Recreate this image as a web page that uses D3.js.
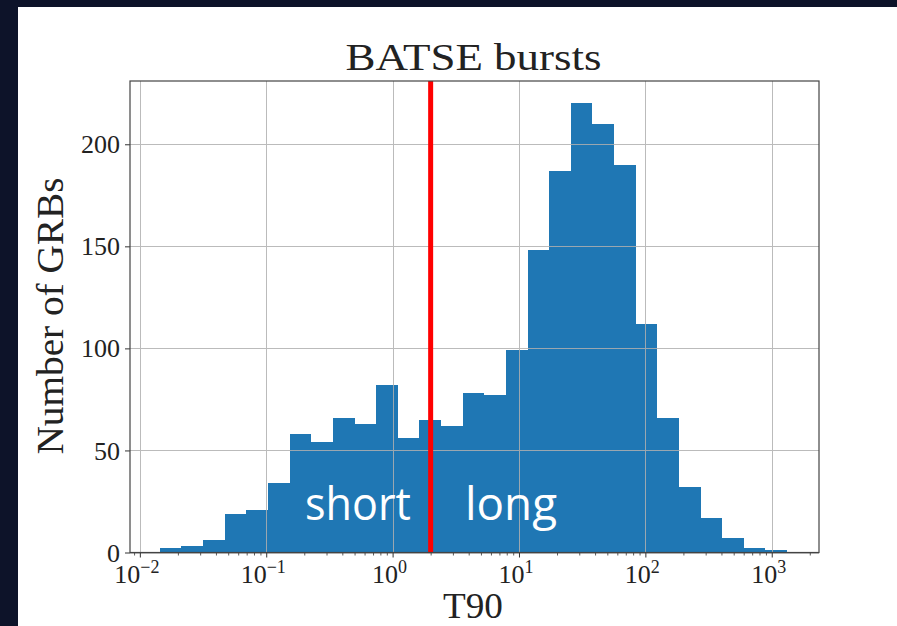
<!DOCTYPE html>
<html>
<head>
<meta charset="utf-8">
<script src="https://cdn.jsdelivr.net/npm/d3@7"></script>
<style>
  html, body { margin: 0; padding: 0; background: #0d1329; }
  svg { display: block; }
</style>
</head>
<body>
<svg id="chart" width="897" height="626"></svg>
<script>
// ---- data ----
const title = "BATSE bursts";
const xLabel = "T90";
const yLabel = "Number of GRBs";
// histogram counts for 29 logarithmic bins of T90 (seconds)
const counts = [2, 3, 6, 19, 21, 34, 58, 54, 66, 63, 82, 56, 65, 62, 78, 77, 99,
                148, 187, 220, 210, 190, 112, 66, 32, 17, 7, 2, 1];
const binMin = 0.0144;   // lower edge of first bin (s)
const binMax = 1321;     // upper edge of last bin (s)
const divider = 2;       // short / long boundary (s)
const xTickExps = [-2, -1, 0, 1, 2, 3];
const yTicks = [0, 50, 100, 150, 200];
const regionLabels = ["short", "long"];

// bin edges (log-spaced between min and max)
const nb = counts.length;
const lmin = Math.log10(binMin), lmax = Math.log10(binMax);
const edges = d3.range(nb + 1).map(i => Math.pow(10, lmin + (lmax - lmin) * i / nb));
const bins = counts.map((c, i) => ({x0: edges[i], x1: edges[i + 1], n: c}));

// ---- layout ----
const svg = d3.select("#chart");
svg.append("rect").attr("x", 18).attr("y", 7).attr("width", 897 - 18).attr("height", 626 - 7).attr("fill", "#ffffff");

const L = 130, R = 819, T = 81, B = 552.5;
const x = d3.scaleLog().domain([Math.pow(10, -2.078), Math.pow(10, 3.374)]).range([L, R]);
const y = d3.scaleLinear().domain([0, 231]).range([B, T]);

const serif = "'Liberation Serif', 'DejaVu Serif', serif";

// bars
svg.append("g").attr("shape-rendering", "crispEdges").selectAll("rect").data(bins).join("rect")
  .attr("x", d => Math.round(x(d.x0)))
  .attr("width", d => Math.round(x(d.x1)) - Math.round(x(d.x0)))
  .attr("y", d => Math.round(y(d.n)))
  .attr("height", d => Math.round(y(0)) - Math.round(y(d.n)))
  .attr("fill", "#1f77b4");

// grid (drawn above bars like the reference)
const grid = svg.append("g").attr("stroke", "#b0b0b0").attr("stroke-width", 1).attr("opacity", 0.85);
xTickExps.forEach(e => {
  const px = Math.round(x(Math.pow(10, e))) + 0.5;
  grid.append("line").attr("x1", px).attr("x2", px).attr("y1", T).attr("y2", B);
});
yTicks.forEach(v => {
  const py = Math.round(y(v)) + 0.5;
  grid.append("line").attr("x1", L).attr("x2", R).attr("y1", py).attr("y2", py);
});

// red divider
svg.append("line")
  .attr("x1", x(divider)).attr("x2", x(divider))
  .attr("y1", T).attr("y2", B)
  .attr("stroke", "#ff0000").attr("stroke-width", 5);

// axes
const xAxis = d3.axisBottom(x)
  .tickValues(xTickExps.map(e => Math.pow(10, e)))
  .tickSize(5).tickFormat("");
const gx = svg.append("g").attr("transform", `translate(0,${B})`).call(xAxis);
gx.select(".domain").remove();
gx.selectAll(".tick line").attr("stroke", "#333").attr("stroke-width", 1);

// minor ticks
const minor = [];
for (let e = -3; e <= 3; e++) for (let m = 2; m <= 9; m++) {
  const v = m * Math.pow(10, e);
  if (v > x.domain()[0] && v < x.domain()[1]) minor.push(v);
}
const xMinor = d3.axisBottom(x).tickValues(minor).tickSize(3).tickFormat("");
const gxm = svg.append("g").attr("transform", `translate(0,${B})`).call(xMinor);
gxm.select(".domain").remove();
gxm.selectAll(".tick line").attr("stroke", "#333").attr("stroke-width", 0.8);

// x tick labels with superscripts
const xl = svg.append("g");
xTickExps.forEach(e => {
  const t = xl.append("text")
    .attr("x", x(Math.pow(10, e)) - 3).attr("y", 583)
    .attr("text-anchor", "middle")
    .attr("font-family", serif).attr("font-size", 26).attr("fill", "#222");
  t.append("tspan").text("10");
  t.append("tspan").attr("font-size", 18).attr("dy", -10)
    .text(e < 0 ? "\u2212" + Math.abs(e) : String(e));
});

const yAxis = d3.axisLeft(y).tickValues(yTicks).tickSize(5).tickFormat("");
const gy = svg.append("g").attr("transform", `translate(${L},0)`).call(yAxis);
gy.select(".domain").remove();
gy.selectAll(".tick line").attr("stroke", "#333").attr("stroke-width", 1);
gy.selectAll(".tick").append("text")
  .attr("x", -10).attr("dy", "0.33em")
  .attr("text-anchor", "end")
  .attr("font-family", serif).attr("font-size", 26).attr("fill", "#222")
  .text(d => d);

// frame
svg.append("rect").attr("x", L).attr("y", T).attr("width", R - L).attr("height", B - T)
  .attr("fill", "none").attr("stroke", "#444").attr("stroke-width", 1.2);

// titles
svg.append("text").attr("x", 473.5).attr("y", 69.5).attr("text-anchor", "middle")
  .attr("font-family", serif).attr("font-size", 38).attr("fill", "#222")
  .attr("textLength", 256).attr("lengthAdjust", "spacingAndGlyphs")
  .text(title);
svg.append("text").attr("x", 473).attr("y", 618).attr("text-anchor", "middle")
  .attr("font-family", serif).attr("font-size", 36).attr("fill", "#222")
  .attr("textLength", 60).attr("lengthAdjust", "spacingAndGlyphs")
  .text(xLabel);
svg.append("text").attr("transform", "translate(63,316) rotate(-90)")
  .attr("text-anchor", "middle")
  .attr("font-family", serif).attr("font-size", 37).attr("fill", "#222")
  .attr("textLength", 277).attr("lengthAdjust", "spacingAndGlyphs")
  .text(yLabel);

// region labels
const sans = "'Open Sans', 'Noto Sans', sans-serif";
svg.append("text").attr("x", 305).attr("y", 520)
  .attr("font-family", sans).attr("font-size", 46).attr("fill", "#ffffff")
  .attr("textLength", 106).attr("lengthAdjust", "spacingAndGlyphs")
  .text(regionLabels[0]);
svg.append("text").attr("x", 465).attr("y", 520)
  .attr("font-family", sans).attr("font-size", 46).attr("fill", "#ffffff")
  .attr("textLength", 92).attr("lengthAdjust", "spacingAndGlyphs")
  .text(regionLabels[1]);
</script>
</body>
</html>
